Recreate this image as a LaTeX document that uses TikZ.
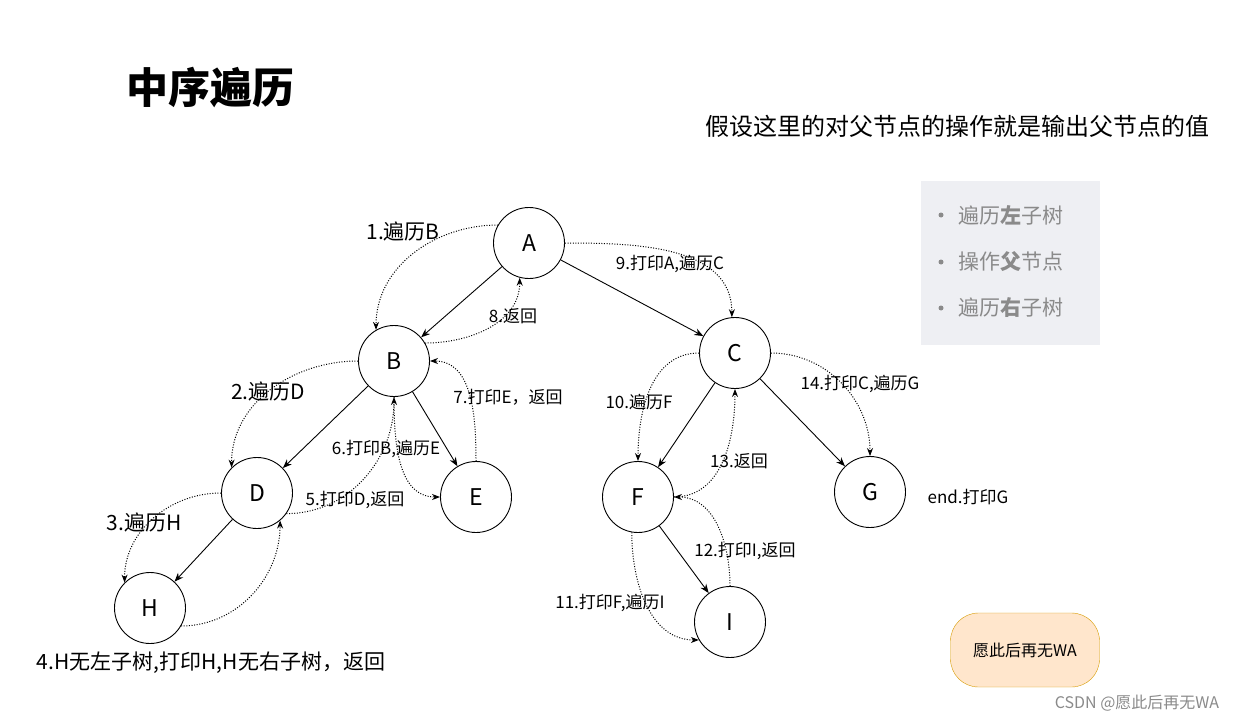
\documentclass[tikz,border=0pt]{standalone}
\usepackage{fontspec}
\setmainfont{Noto Sans CJK SC}
\usetikzlibrary{arrows.meta}
\definecolor{boxg}{HTML}{EEEFF3}
\definecolor{itg}{HTML}{8A8A8A}
\definecolor{orf}{HTML}{FFE6CC}
\definecolor{ord}{HTML}{D79B00}
\begin{document}
\begin{tikzpicture}[x=1pt,y=-1pt,
 nd/.style={circle,draw,line width=0.9pt,minimum size=71pt,inner sep=0pt,font=\fontsize{23}{25}\selectfont},
 tr/.style={-{Stealth[length=9pt,width=7pt]},line width=0.9pt},
 dt/.style={-{Stealth[length=8pt,width=6pt]},dash pattern=on 1pt off 1.6pt,line width=1pt},
 lb/.style={font=\fontsize{17}{19}\selectfont,inner sep=1pt},
 lbb/.style={font=\fontsize{21}{23}\selectfont,inner sep=1pt},
 it/.style={font=\fontsize{21}{23}\selectfont,text=itg,anchor=west}]
\useasboundingbox (0,0) rectangle (1252,722);
\node[font=\fontsize{42}{46}\selectfont\bfseries] (title) at (210,88) {中序遍历};
\node[font=\fontsize{24}{26}\selectfont] (note) at (957,126) {假设这里的对父节点的操作就是输出父节点的值};
\fill[boxg] (921,181) rectangle (1100,345);
\foreach \y/\t in {215/{遍历\textbf{左}子树},262/{操作\textbf{父}节点},308/{遍历\textbf{右}子树}}{
 \fill[itg] (941,\y) circle (2.5pt);
 \node[it] at (955,\y) {\t};}
\node[draw=ord,fill=orf,rounded corners=28pt,minimum width=149pt,minimum height=74pt,font=\fontsize{16}{18}\selectfont] (wa) at (1025,650) {愿此后再无WA};
\node[font=\fontsize{16}{18}\selectfont,text=itg] (wm) at (1137,703) {CSDN @愿此后再无WA};

\node[nd] (A) at (529,243) {A};
\node[nd] (B) at (394,361) {B};
\node[nd] (C) at (735,353) {C};
\node[nd] (D) at (257,493) {D};
\node[nd] (E) at (476,497) {E};
\node[nd] (F) at (638,497) {F};
\node[nd] (G) at (870,492) {G};
\node[nd] (H) at (150,608) {H};
\node[nd] (I) at (730,622) {I};

\draw[tr] (A) -- (B); \draw[tr] (A) -- (C);
\draw[tr] (B) -- (D); \draw[tr] (B) -- (E);
\draw[tr] (C) -- (F); \draw[tr] (C) -- (G);
\draw[tr] (D) -- (H); \draw[tr] (F) -- (I);

\draw[dt] (A.150) to[out=180,in=90] (B.120);
\draw[dt] (B.30) to[out=0,in=-90] (A.-105);
\draw[dt] (A.0) to[out=0,in=90] (C.95);
\draw[dt] (B.180) to[out=180,in=90] (D.135);
\draw[dt] (D.180) to[out=180,in=90] (H.135);
\draw[dt] (H.-30) to[out=0,in=-90] (D.-50);
\draw[dt] (D.-35) to[out=0,in=-90] (B.-90);
\draw[dt] (B.-90) to[out=-90,in=180] (E.180);
\draw[dt] (E.90) to[out=90,in=0] (B.0);
\draw[dt] (C.180) to[out=180,in=90] (F.90);
\draw[dt] (F.-100) to[out=-90,in=180] (I.-150);
\draw[dt] (I.90) to[out=90,in=0] (F.0);
\draw[dt] (F.0) to[out=0,in=-90] (C.-90);
\draw[dt] (C.0) to[out=0,in=90] (G.90);

\node[lbb] (l1) at (403,231) {1.遍历B};
\node[lb] (l8) at (513,316) {8.返回};
\node[lb] (l9) at (670,264) {9.打印A,遍历C};
\node[lbb] (l2) at (268,391) {2.遍历D};
\node[lbb] (l3) at (144,522) {3.遍历H};
\node[lbb] (l4) at (211,663) {4.H无左子树,打印H,H无右子树，返回};
\node[lb] (l5) at (355,500) {5.打印D,返回};
\node[lb] (l6) at (386,449) {6.打印B,遍历E};
\node[lb] (l7) at (508,397) {7.打印E，返回};
\node[lb] (l10) at (639,402) {10.遍历F};
\node[lb] (l11) at (610,603) {11.打印F,遍历I};
\node[lb] (l12) at (745,551) {12.打印I,返回};
\node[lb] (l13) at (739,461) {13.返回};
\node[lb] (l14) at (860,384) {14.打印C,遍历G};
\node[lb] (lend) at (968,497) {end.打印G};
\end{tikzpicture}
\end{document}
